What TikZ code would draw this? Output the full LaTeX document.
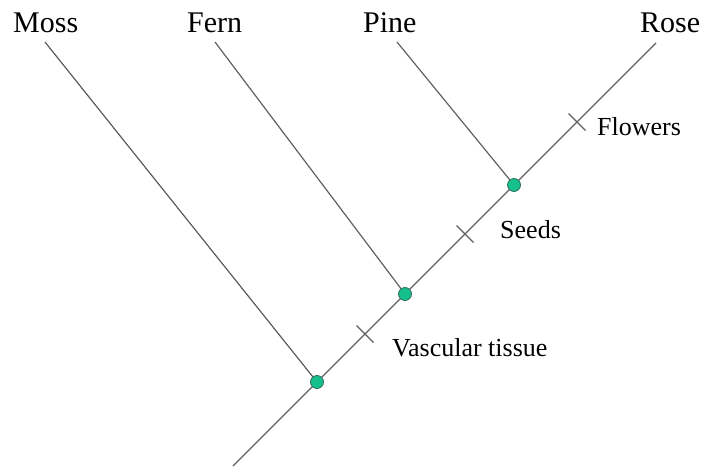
\documentclass[tikz,border=0pt]{standalone}
\usepackage{fontspec}
\setmainfont{Liberation Serif}
\definecolor{branch}{HTML}{606060}
\definecolor{dotfill}{HTML}{16C08C}
\definecolor{dotedge}{HTML}{2E6E5A}
\begin{document}
\begin{tikzpicture}[x=1pt,y=-1pt,
  branchline/.style={draw=branch,line width=1.2pt},
  tickmark/.style={draw=branch,line width=1.2pt},
  junction/.style={circle,fill=dotfill,draw=dotedge,line width=0.8pt,minimum size=13pt,inner sep=0pt},
  taxon/.style={anchor=base west,inner sep=0pt,font=\fontsize{30}{36}\selectfont},
  trait/.style={anchor=base west,inner sep=0pt,font=\fontsize{26}{31}\selectfont}]
\useasboundingbox (0,0) rectangle (704,466);
% end points
\coordinate (root) at (233,466);
\coordinate (rosetop) at (656,43);
\coordinate (mosstop) at (45,42);
\coordinate (ferntop) at (215,42);
\coordinate (pinetop) at (397,42);
\coordinate (t1) at (365,334);
\coordinate (t2) at (465,234);
\coordinate (t3) at (577,122);
% branches
\draw[branchline] (root) -- (rosetop);
\draw[branchline] (mosstop) -- (317,382);
\draw[branchline] (ferntop) -- (405,294);
\draw[branchline] (pinetop) -- (514,185);
% ticks
\draw[tickmark] ([shift={(-8.5,-8.5)}]t1) -- ([shift={(8.5,8.5)}]t1);
\draw[tickmark] ([shift={(-8.5,-8.5)}]t2) -- ([shift={(8.5,8.5)}]t2);
\draw[tickmark] ([shift={(-8.5,-8.5)}]t3) -- ([shift={(8.5,8.5)}]t3);
% junctions
\node[junction] (d1) at (317,382) {};
\node[junction] (d2) at (405,294) {};
\node[junction] (d3) at (514,185) {};
% labels
\node[taxon] (moss) at (13,32) {Moss};
\node[taxon] (fern) at (187,32) {Fern};
\node[taxon] (pine) at (363,32) {Pine};
\node[taxon] (rose) at (640,32) {Rose};
\node[trait] (vasc) at (392,356) {Vascular tissue};
\node[trait] (seeds) at (500,238) {Seeds};
\node[trait] (flowers) at (597,135) {Flowers};
\end{tikzpicture}
\end{document}
